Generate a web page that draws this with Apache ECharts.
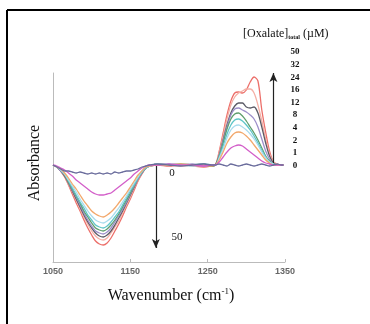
<!DOCTYPE html>
<html><head><meta charset="utf-8">
<script src="https://cdn.jsdelivr.net/npm/echarts@6/dist/echarts.min.js"></script>
<style>html,body{margin:0;padding:0;background:#fff}#c{width:370px;height:324px}</style>
</head><body><div id="c"></div>
<script>
// Wavenumbers (cm-1)
var wavenumbers = [1050,1055,1060,1065,1070,1075,1080,1085,1090,1095,1100,1105,1110,1115,1120,1125,1130,1135,1140,1145,1150,1155,1160,1165,1170,1175,
  1185,1200,1215,1230,1245,1255,
  1260,1265,1270,1275,1280,1285,1290,1295,1300,1305,1310,1315,1320,1325,1330,1335,1340,1345,1348];

// Difference absorbance (arbitrary units) per total oxalate concentration
var abs0  = [0,-2,-4,-6,-6,-7,-8,-7,-8,-9,-8,-9,-8,-9,-8,-9,-7,-8,-7,-6,-6,-5,-4,-2,-1,0,
  1,0,-1,0,1,0,
  0,1,0,-1,1,0,-1,0,1,0,-1,0,1,0,-1,0,1,0,0];
var abs1  = [0,-1,-3,-5,-8,-11,-15,-18,-21,-24,-27,-29,-30,-30,-29,-28,-25,-22,-19,-16,-13,-9,-6,-3,-1,0,
  0,1,0,0,-1,0,
  0,3,8,13,17,19,20,19,16,13,10,7,4,2,1,0,0,0,0];
var abs2  = [0,-2,-4,-8,-13,-19,-24,-30,-36,-41,-46,-49,-51,-52,-50,-47,-43,-38,-33,-28,-22,-16,-10,-6,-2,-1,
  0,0,1,0,0,-1,
  0,5,13,22,28,32,33,32,29,25,20,15,10,5,2,0,0,0,0];
var abs4  = [0,-2,-5,-9,-15,-21,-27,-34,-40,-46,-51,-55,-57,-58,-56,-53,-48,-43,-37,-31,-24,-18,-12,-6,-2,-1,
  1,0,0,-1,0,0,
  0,7,16,27,35,39,40,38,35,31,26,20,13,7,3,1,0,0,0];
var abs8  = [0,-2,-5,-9,-16,-23,-30,-37,-43,-50,-55,-60,-62,-63,-61,-57,-52,-47,-40,-33,-26,-20,-13,-7,-3,-1,
  0,1,0,0,1,0,
  0,8,19,31,40,45,46,44,40,35,29,22,15,8,3,1,0,0,0];
var abs12 = [0,-2,-5,-10,-17,-24,-31,-38,-46,-52,-58,-63,-65,-66,-64,-60,-55,-49,-42,-35,-28,-20,-13,-7,-3,-1,
  1,0,1,0,0,-1,
  0,9,22,36,46,51,52,49,44,38,32,25,17,9,4,1,0,0,0];
var abs16 = [0,-2,-6,-10,-17,-25,-32,-40,-48,-55,-61,-66,-68,-69,-67,-63,-57,-51,-44,-37,-29,-21,-14,-8,-3,-1,
  0,0,0,1,-1,0,
  0,10,24,38,50,56,57,55,53,50,46,38,26,14,6,1,0,0,0];
var abs24 = [0,-2,-6,-11,-18,-26,-34,-42,-50,-57,-63,-68,-71,-72,-70,-66,-60,-53,-46,-38,-30,-22,-14,-8,-3,-1,
  1,0,0,0,1,-1,
  0,10,25,40,52,59,62,62,58,57,58,52,38,22,9,2,0,0,0];
var abs32 = [0,-2,-6,-11,-19,-27,-35,-44,-52,-59,-66,-71,-74,-75,-73,-68,-62,-56,-48,-40,-32,-23,-15,-8,-3,-1,
  0,0,-1,0,0,-1,
  0,12,29,46,60,68,72,74,76,76,72,60,44,26,11,3,1,0,0];
var abs50 = [0,-2,-6,-12,-20,-29,-38,-46,-55,-63,-70,-76,-79,-80,-78,-73,-66,-59,-51,-42,-34,-25,-16,-9,-3,-1,
  0,-1,0,-1,-2,-1,
  0,14,32,50,64,72,73,72,75,83,88,84,55,33,14,3,1,0,0];

var concLabels = ['50','32','24','16','12','8','4','2','1','0'];

var seriesDefs = [
  {name:'50', data:abs50, color:'#ec6f6a'},
  {name:'32', data:abs32, color:'#f5b0a6'},
  {name:'24', data:abs24, color:'#5b5b66'},
  {name:'16', data:abs16, color:'#9c8ec9'},
  {name:'12', data:abs12, color:'#5f9e6e'},
  {name:'8',  data:abs8,  color:'#5fc6c8'},
  {name:'4',  data:abs4,  color:'#a9dced'},
  {name:'2',  data:abs2,  color:'#f2a86c'},
  {name:'1',  data:abs1,  color:'#d35fc9'},
  {name:'0',  data:abs0,  color:'#6a6c9c'}
];

var chart = echarts.init(document.getElementById('c'), null, {renderer:'canvas'});
var series = seriesDefs.map(function(s, i){
  return {
    type:'line', name:s.name, showSymbol:false, smooth:0.3,
    data: wavenumbers.map(function(w, j){ return [w, s.data[j]]; }),
    lineStyle:{color:s.color, width:1.3}, itemStyle:{color:s.color}, z: 2 + i
  };
});
series.push({
  type:'line', data:[], silent:true,
  markLine:{
    silent:true, symbol:['none','arrow'], symbolSize:[6,9],
    label:{show:false},
    lineStyle:{color:'#222', width:1.2, type:'solid'},
    data:[
      [{coord:[1183,0]},{coord:[1183,-83]}],
      [{coord:[1335,0]},{coord:[1335,92]}]
    ]
  }
});

var serif = '"Liberation Serif","DejaVu Serif",serif';
var graphics = [
  {type:'line', shape:{x1:7,y1:10,x2:370,y2:10}, style:{stroke:'#000', lineWidth:2}},
  {type:'line', shape:{x1:7,y1:10,x2:7,y2:324}, style:{stroke:'#000', lineWidth:2}},
  {type:'text', left:243, top:28, style:{
    text:'[Oxalate]{s|total} (µM)', font:'12px '+serif, fill:'#111',
    rich:{s:{fontSize:6, fontWeight:'bold', fill:'#111', padding:[6,0,0,0], fontFamily:'Liberation Serif'}}
  }},
  {type:'text', x:172, y:173, style:{text:'0', font:'11px '+serif, fill:'#111', textAlign:'center', textVerticalAlign:'middle'}},
  {type:'text', x:177, y:237, style:{text:'50', font:'11px '+serif, fill:'#111', textAlign:'center', textVerticalAlign:'middle'}},
  {type:'text', x:35, y:163, rotation:Math.PI/2, style:{text:'Absorbance', font:'16px '+serif, fill:'#111', textAlign:'center', textVerticalAlign:'middle'}},
  {type:'text', x:171, y:296, style:{text:'Wavenumber (cm{sup|-1})', font:'16px '+serif, fill:'#111', textAlign:'center', textVerticalAlign:'middle',
    rich:{sup:{fontSize:9, fontFamily:'Liberation Serif', padding:[0,0,8,0], fill:'#111'}}}}
];
concLabels.forEach(function(t, i){
  graphics.push({type:'text', x:295, y:52 + i*12.6, style:{text:t, font:'bold 9px '+serif, fill:'#111', textAlign:'center', textVerticalAlign:'middle'}});
});

chart.setOption({
  animation:false,
  backgroundColor:'#fff',
  grid:{left:53, right:85, top:73, bottom:62, containLabel:false},
  xAxis:{
    type:'value', min:1050, max:1350, interval:100,
    axisLine:{show:true, onZero:false, lineStyle:{color:'#bbb', width:1}},
    axisTick:{show:true, length:3, inside:true, lineStyle:{color:'#bbb'}},
    axisLabel:{color:'#666', fontSize:9, fontWeight:'bold', fontFamily:'"Liberation Sans",Arial,sans-serif', margin:5,
      formatter:function(v){ return String(v); }},
    splitLine:{show:false}
  },
  yAxis:{
    type:'value', min:-97, max:92,
    axisLine:{show:true, onZero:false, lineStyle:{color:'#bbb', width:1}},
    axisTick:{show:false}, axisLabel:{show:false}, splitLine:{show:false}
  },
  series: series,
  graphic: graphics
});
</script></body></html>
